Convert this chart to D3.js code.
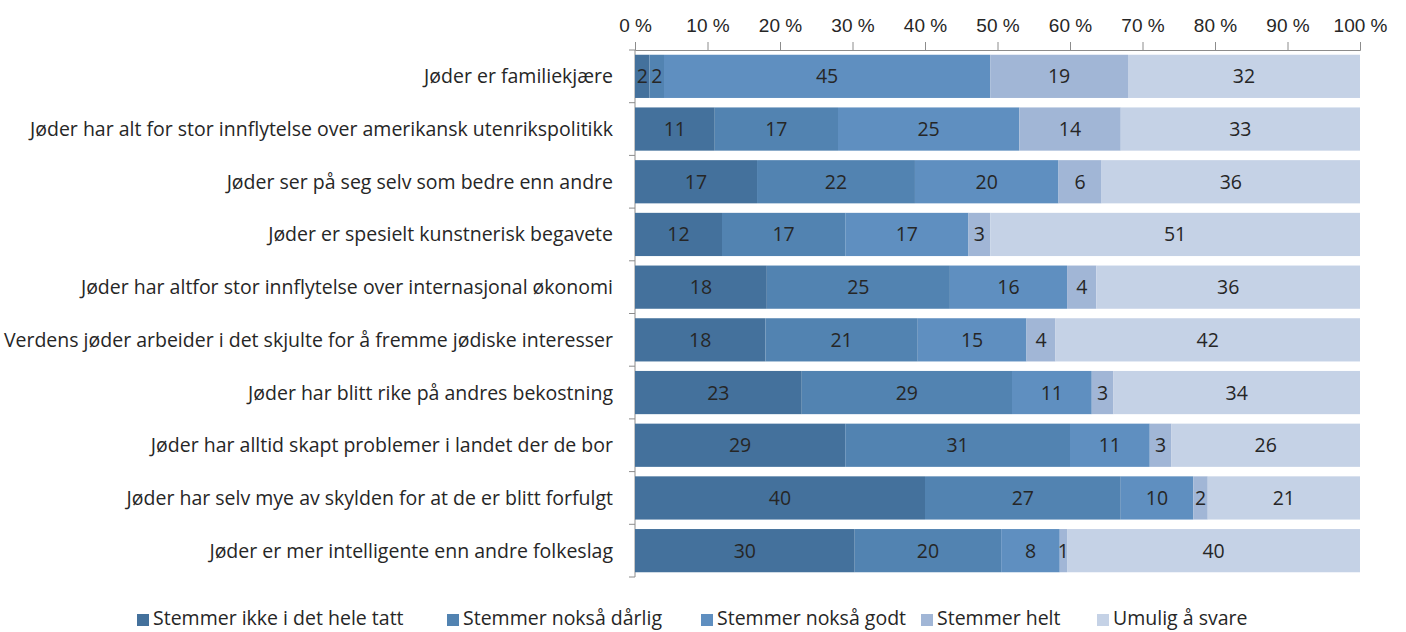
<!DOCTYPE html>
<html>
<head>
<meta charset="utf-8">
<script src="https://cdn.jsdelivr.net/npm/d3@7.9.0/dist/d3.min.js"></script>
<style>
  body { margin: 0; background: #fff; }
  svg { font-family: "Open Sans", Lato, sans-serif; }
</style>
</head>
<body>
<svg width="1406" height="632"></svg>
<script>
const categories = [
  "Jøder er familiekjære",
  "Jøder har alt for stor innflytelse over amerikansk utenrikspolitikk",
  "Jøder ser på seg selv som bedre enn andre",
  "Jøder er spesielt kunstnerisk begavete",
  "Jøder har altfor stor innflytelse over internasjonal økonomi",
  "Verdens jøder arbeider i det skjulte for å fremme jødiske interesser",
  "Jøder har blitt rike på andres bekostning",
  "Jøder har alltid skapt problemer i landet der de bor",
  "Jøder har selv mye av skylden for at de er blitt forfulgt",
  "Jøder er mer intelligente enn andre folkeslag"
];
const seriesNames = [
  "Stemmer ikke i det hele tatt",
  "Stemmer nokså dårlig",
  "Stemmer nokså godt",
  "Stemmer helt",
  "Umulig å svare"
];
const ikkeIDetHele = [2, 11, 17, 12, 18, 18, 23, 29, 40, 30];
const noksaDarlig  = [2, 17, 22, 17, 25, 21, 29, 31, 27, 20];
const noksaGodt    = [45, 25, 20, 17, 16, 15, 11, 11, 10, 8];
const helt         = [19, 14, 6, 3, 4, 4, 3, 3, 2, 1];
const umulig       = [32, 33, 36, 51, 36, 42, 34, 26, 21, 40];
const tickValues = [0, 10, 20, 30, 40, 50, 60, 70, 80, 90, 100];
const colors = ["#44719c", "#5283b1", "#5f8fc0", "#a1b6d6", "#c5d2e6"];

const series = [ikkeIDetHele, noksaDarlig, noksaGodt, helt, umulig];
const rows = categories.map((c, i) => {
  const vals = series.map(s => s[i]);
  const total = d3.sum(vals);
  let acc = 0;
  const segs = vals.map((v, k) => {
    const x0 = acc / total * 100;
    acc += v;
    return { k, v, x0, x1: acc / total * 100 };
  });
  return { c, segs };
});

const svg = d3.select("svg");
const plotLeft = 635, plotRight = 1360, plotTop = 50, plotBottom = 577;
const textColor = "#262626";
const fs = 19.5;

const x = d3.scaleLinear().domain([0, 100]).range([plotLeft, plotRight]);
const y = d3.scaleBand().domain(categories).range([plotTop, plotBottom]).paddingInner(0.18).paddingOuter(0.09);

// top axis
const xAxis = svg.append("g").attr("transform", `translate(0,${plotTop})`)
  .call(d3.axisTop(x).tickValues(tickValues).tickFormat(d => d + " %").tickSize(8).tickPadding(10));
xAxis.select(".domain").attr("stroke", "#8c8c8c");
xAxis.selectAll(".tick line").attr("stroke", "#8c8c8c");
xAxis.selectAll("text").attr("font-size", 19).attr("fill", textColor);

// left axis line + ticks between categories
svg.append("line").attr("x1", plotLeft).attr("x2", plotLeft).attr("y1", plotTop).attr("y2", plotBottom).attr("stroke", "#8c8c8c");
d3.range(categories.length + 1).forEach(i => {
  const yy = plotTop + i * (plotBottom - plotTop) / categories.length;
  svg.append("line").attr("x1", plotLeft - 6).attr("x2", plotLeft).attr("y1", yy).attr("y2", yy).attr("stroke", "#8c8c8c");
});

// category labels
svg.append("g").selectAll("text").data(categories).join("text")
  .attr("x", 613).attr("y", d => y(d) + y.bandwidth() / 2)
  .attr("dy", "0.36em").attr("text-anchor", "end")
  .attr("font-size", fs).attr("fill", textColor).text(d => d);

// bars
const rowG = svg.append("g").selectAll("g").data(rows).join("g")
  .attr("transform", d => `translate(0,${y(d.c)})`);
rowG.selectAll("rect").data(d => d.segs).join("rect")
  .attr("x", d => x(d.x0)).attr("width", d => x(d.x1) - x(d.x0))
  .attr("y", 0).attr("height", y.bandwidth())
  .attr("fill", d => colors[d.k]);
rowG.selectAll("text").data(d => d.segs).join("text")
  .attr("x", d => (x(d.x0) + x(d.x1)) / 2)
  .attr("y", y.bandwidth() / 2).attr("dy", "0.36em")
  .attr("text-anchor", "middle").attr("font-size", fs).attr("fill", textColor)
  .text(d => d.v);

// legend
const legendX = [137, 447, 701, 921, 1097];
const legend = svg.append("g").selectAll("g").data(seriesNames).join("g")
  .attr("transform", (d, i) => `translate(${legendX[i]},618)`);
legend.append("rect").attr("x", 0).attr("y", -4).attr("width", 12).attr("height", 12)
  .attr("fill", (d, i) => colors[i]);
legend.append("text").attr("x", 16).attr("dy", "0.36em").attr("font-size", fs).attr("fill", textColor).text(d => d);
</script>
</body>
</html>
